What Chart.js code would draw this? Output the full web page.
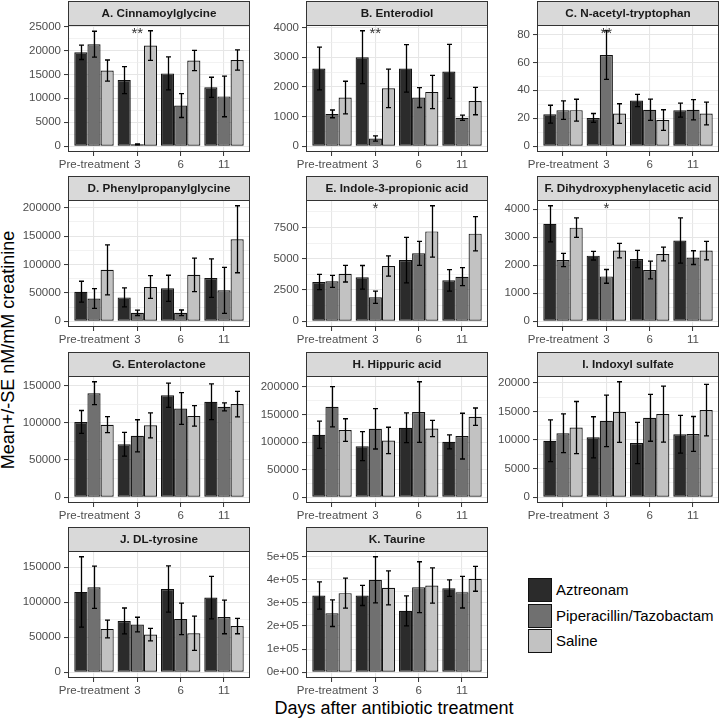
<!DOCTYPE html>
<html><head><meta charset="utf-8">
<script src="https://cdn.jsdelivr.net/npm/chart.js@4.4.1/dist/chart.umd.min.js"></script>
<style>
html,body{margin:0;padding:0;background:#fff;}
#wrap{position:relative;width:720px;height:720px;overflow:hidden;font-family:'Liberation Sans',Arial,sans-serif;}
#wrap canvas{position:absolute;}
.ttl{position:absolute;width:400px;height:20px;line-height:20px;font-size:18px;text-align:center;color:#000;white-space:nowrap;}
.key{position:absolute;left:528px;width:22px;height:22px;border:1px solid #111;}
.klab{position:absolute;left:556px;height:24px;line-height:24px;font-size:15px;color:#000;white-space:nowrap;}
</style></head>
<body><div id="wrap">
<div class="ttl" style="left:-192px;top:340px;transform:rotate(-90deg);">Mean+/-SE nM/mM creatinine</div>
<div class="ttl" style="left:194px;top:698px;">Days after antibiotic treatment</div>
</div>
<script>
// ---------- DATA ----------
const days = ['Pre-treatment', '3', '6', '11'];
const treatments = ['Aztreonam', 'Piperacillin/Tazobactam', 'Saline'];
const panelTitles = ['A. Cinnamoylglycine', 'B. Enterodiol', 'C. N-acetyl-tryptophan',
  'D. Phenylpropanylglycine', 'E. Indole-3-propionic acid', 'F. Dihydroxyphenylacetic acid',
  'G. Enterolactone', 'H. Hippuric acid', 'I. Indoxyl sulfate', 'J. DL-tyrosine', 'K. Taurine'];
// significance marks at day "3"
const significance = ['**', '**', '**', '', '*', '*', '', '', '', '', ''];
const significanceDay = 1;

// rows: Aztreonam, Piperacillin/Tazobactam, Saline ; columns: days
const cinnamoylglycineMean = [[19600, 13800, 15200, 12300], [21300, 400, 8500, 10400], [15800, 21000, 17900, 18000]];
const cinnamoylglycineSE   = [[1500, 2800, 3450, 2100], [2700, 100, 2500, 4250], [2200, 3100, 2100, 2100]];
const cinnamoylglycineTicks = ['0', '5000', '10000', '15000', '20000', '25000'];

const enterodiolMean = [[2620, 3000, 2620, 2520], [1090, 260, 1640, 960], [1640, 1950, 1830, 1520]];
const enterodiolSE   = [[720, 890, 800, 910], [130, 90, 335, 90], [550, 650, 560, 460]];
const enterodiolTicks = ['0', '1000', '2000', '3000', '4000'];

const acetyltryptophanMean = [[22.9, 20.2, 32.7, 25.8], [25.8, 65.2, 26.1, 26.1], [25.8, 23.4, 18.7, 23.4]];
const acetyltryptophanSE   = [[6.4, 3.2, 4.4, 5.0], [6.6, 17.4, 7.6, 7.3], [7.8, 7.0, 7.4, 8.1]];
const acetyltryptophanTicks = ['0', '20', '40', '60', '80'];

const phenylpropanylglycineMean = [[52000, 42000, 58000, 76000], [40000, 14800, 14800, 54400], [90500, 60400, 81700, 144400]];
const phenylpropanylglycineSE   = [[18400, 16600, 23000, 34000], [17500, 4700, 5000, 40500], [44000, 20000, 29600, 59000]];
const phenylpropanylglycineTicks = ['0', '50000', '100000', '150000', '200000'];

const indolepropionicMean = [[3140, 3510, 4890, 3270], [3190, 1910, 5430, 3560], [3800, 4410, 7180, 7000]];
const indolepropionicSE   = [[610, 945, 1820, 860], [480, 490, 960, 720], [665, 810, 2050, 1370]];
const indolepropionicTicks = ['0', '2500', '5000', '7500'];

const dihydroxyphenylaceticMean = [[3475, 2340, 2220, 2880], [2185, 1600, 1830, 2270], [3340, 2520, 2400, 2520]];
const dihydroxyphenylaceticSE   = [[645, 155, 310, 806], [233, 245, 317, 245], [346, 256, 245, 330]];
const dihydroxyphenylaceticTicks = ['0', '1000', '2000', '3000', '4000'];

const enterolactoneMean = [[101000, 71100, 136900, 128200], [139600, 82500, 119200, 121400], [97400, 96500, 109200, 125000]];
const enterolactoneSE   = [[15400, 15900, 16300, 24000], [15400, 21500, 21300, 5400], [10800, 16800, 13800, 17000]];
const enterolactoneTicks = ['0', '50000', '100000', '150000'];

const hippuricMean = [[113300, 92700, 126100, 100600], [164200, 124200, 154500, 110900], [121800, 103000, 124800, 146100]];
const hippuricSE   = [[24800, 26300, 27000, 12700], [36400, 36700, 55000, 41500], [20600, 24000, 14800, 15800]];
const hippuricTicks = ['0', '50000', '100000', '150000', '200000'];

const indoxylMean = [[9880, 10470, 9470, 11000], [11180, 13350, 13880, 11060], [12180, 14880, 14530, 15240]];
const indoxylSE   = [[3650, 3600, 3600, 3300], [3400, 4500, 4100, 3050], [4550, 5300, 4900, 4500]];
const indoxylTicks = ['0', '5000', '10000', '15000', '20000'];

const tyrosineMean = [[114800, 73300, 119000, 106700], [121400, 68100, 76200, 79000], [61900, 53800, 55700, 66000]];
const tyrosineSE   = [[50200, 18500, 33000, 30400], [30200, 10500, 22600, 24000], [12700, 9000, 24500, 11000]];
const tyrosineTicks = ['0', '50000', '100000', '150000'];

const taurineMean = [[332400, 332400, 265900, 364200], [255800, 400300, 368500, 346800], [342500, 365600, 375700, 404600]];
const taurineSE   = [[59000, 43400, 65000, 36100], [57800, 99700, 110000, 68700], [65000, 73700, 76600, 54000]];
const taurineTicks = ['0e+00', '1e+05', '2e+05', '3e+05', '4e+05', '5e+05'];

const panelMeans = [cinnamoylglycineMean, enterodiolMean, acetyltryptophanMean, phenylpropanylglycineMean,
  indolepropionicMean, dihydroxyphenylaceticMean, enterolactoneMean, hippuricMean, indoxylMean, tyrosineMean, taurineMean];
const panelSEs = [cinnamoylglycineSE, enterodiolSE, acetyltryptophanSE, phenylpropanylglycineSE,
  indolepropionicSE, dihydroxyphenylaceticSE, enterolactoneSE, hippuricSE, indoxylSE, tyrosineSE, taurineSE];
const panelTicks = [cinnamoylglycineTicks, enterodiolTicks, acetyltryptophanTicks, phenylpropanylglycineTicks,
  indolepropionicTicks, dihydroxyphenylaceticTicks, enterolactoneTicks, hippuricTicks, indoxylTicks, tyrosineTicks, taurineTicks];

// ---------- STYLE / LAYOUT ----------
const fills = ['#2b2b2b', '#707070', '#c2c2c2'];
const FONT = "'Liberation Sans', Arial, sans-serif";
Chart.defaults.font.family = FONT;
const colLeft = [68, 306, 537];
const rowTop = [1, 176, 352, 527];
const STRIP = 24, YAXW = 60, XAXH = 25, PW = 182, CH = 176;

const wrap = document.getElementById('wrap');

const deco = {
  id: 'deco',
  beforeDraw(chart, args, o) {
    const {ctx, chartArea: a} = chart;
    ctx.save();
    ctx.fillStyle = '#fff';
    ctx.fillRect(a.left, a.top, a.right - a.left, a.bottom - a.top);
    ctx.fillStyle = '#d9d9d9';
    ctx.fillRect(a.left, a.top - STRIP, a.right - a.left, STRIP);
    ctx.restore();
  },
  afterDatasetsDraw(chart, args, o) {
    const {ctx} = chart;
    const ys = chart.scales.y;
    ctx.save();
    ctx.strokeStyle = '#000';
    ctx.lineWidth = 1.3;
    chart.data.datasets.forEach((ds, t) => {
      const meta = chart.getDatasetMeta(t);
      meta.data.forEach((el, d) => {
        const m = o.mean[t][d], s = o.se[t][d];
        const y1 = ys.getPixelForValue(m + s), y2 = ys.getPixelForValue(m - s);
        const x = Math.round(el.x) + 0.5;
        ctx.beginPath();
        ctx.moveTo(x, y1); ctx.lineTo(x, y2);
        ctx.moveTo(x - 2.5, y1); ctx.lineTo(x + 2.5, y1);
        ctx.moveTo(x - 2.5, y2); ctx.lineTo(x + 2.5, y2);
        ctx.stroke();
      });
    });
    ctx.restore();
  },
  afterDraw(chart, args, o) {
    const {ctx, chartArea: a} = chart;
    ctx.save();
    ctx.strokeStyle = '#333';
    ctx.lineWidth = 1;
    ctx.strokeRect(a.left + 0.5, a.top + 0.5, a.right - a.left - 1, a.bottom - a.top - 1);
    ctx.strokeRect(a.left + 0.5, a.top - STRIP + 0.5, a.right - a.left - 1, STRIP);
    ctx.fillStyle = '#1a1a1a';
    ctx.font = 'bold 11.7px ' + FONT;
    ctx.textAlign = 'center';
    ctx.textBaseline = 'middle';
    ctx.fillText(o.title, (a.left + a.right) / 2, a.top - STRIP / 2 + 0.5);
    if (o.star) {
      ctx.fillStyle = '#333';
      ctx.font = '15px ' + FONT;
      ctx.textBaseline = 'alphabetic';
      ctx.fillText(o.star, chart.scales.x.getPixelForValue(significanceDay), a.top + 12.5);
    }
    ctx.restore();
  }
};

panelTitles.forEach((title, k) => {
  const r = Math.floor(k / 3), c = k % 3;
  const cv = document.createElement('canvas');
  cv.width = YAXW + PW + 2; cv.height = CH;
  cv.style.left = (colLeft[c] - YAXW) + 'px';
  cv.style.top = rowTop[r] + 'px';
  cv.style.width = cv.width + 'px'; cv.style.height = CH + 'px';
  wrap.appendChild(cv);

  const mean = panelMeans[k], se = panelSEs[k];
  let M = 0;
  mean.forEach((arr, t) => arr.forEach((m, d) => { M = Math.max(M, m + se[t][d]); }));
  const yMin = -0.05 * M, yMax = 1.05 * M;
  const majors = panelTicks[k].map(s => ({value: Number(s), lbl: s, isMinor: false}));
  const step = majors[1].value - majors[0].value;
  const tickList = majors.slice();
  for (let v = step / 2; v <= yMax; v += step) tickList.push({value: v, lbl: '', isMinor: true});
  tickList.sort((a, b) => a.value - b.value);

  new Chart(cv, {
    type: 'bar',
    data: {
      datasets: treatments.map((name, t) => ({
        label: name,
        data: mean[t].map((v, d) => ({x: d, y: v})),
        backgroundColor: fills[t],
        borderColor: '#111',
        borderWidth: 1.2,
        borderSkipped: false,
        barPercentage: 1,
        categoryPercentage: 0.91
      }))
    },
    options: {
      responsive: false, animation: false, devicePixelRatio: 1,
      layout: {padding: {top: STRIP, right: 2, left: 0, bottom: 0}},
      plugins: {
        legend: {display: false}, tooltip: {enabled: false},
        deco: {title: title, mean: mean, se: se, star: significance[k]}
      },
      scales: {
        x: {
          type: 'linear', min: -0.6, max: 3.6, bounds: 'data', offset: false,
          afterBuildTicks: ax => { ax.ticks = days.map((d, i) => ({value: i})); },
          afterFit: ax => { ax.height = XAXH; },
          ticks: {callback: (v) => days[Math.round(v)], autoSkip: false, maxRotation: 0,
            color: '#4d4d4d', font: {size: 11.5}, padding: 2},
          grid: {offset: false, color: '#e6e6e6', lineWidth: 1.1, tickLength: 4, tickColor: '#333', tickWidth: 1},
          border: {display: false}
        },
        y: {
          type: 'linear', min: yMin, max: yMax, bounds: 'data', beginAtZero: false,
          afterBuildTicks: ax => { ax.ticks = tickList.map(t => Object.assign({}, t)); },
          afterFit: ax => { ax.width = YAXW; },
          ticks: {callback: (v, i, ts) => ts[i].lbl, autoSkip: false, color: '#4d4d4d',
            font: {size: 11.5}, padding: 3},
          grid: {
            color: c => (c.tick && c.tick.isMinor) ? '#ececec' : '#e6e6e6',
            lineWidth: c => (c.tick && c.tick.isMinor) ? 0.7 : 1.1,
            tickColor: c => (c.tick && c.tick.isMinor) ? 'rgba(0,0,0,0)' : '#333',
            tickLength: 4, tickWidth: 1
          },
          border: {display: false}
        }
      }
    },
    plugins: [deco]
  });
});

// legend
const keyTops = [578, 604, 629];
treatments.forEach((name, t) => {
  const k = document.createElement('div');
  k.className = 'key'; k.style.top = keyTops[t] + 'px'; k.style.background = fills[t];
  wrap.appendChild(k);
  const l = document.createElement('div');
  l.className = 'klab'; l.style.top = keyTops[t] + 'px'; l.textContent = name;
  wrap.appendChild(l);
});
</script>
</body></html>
